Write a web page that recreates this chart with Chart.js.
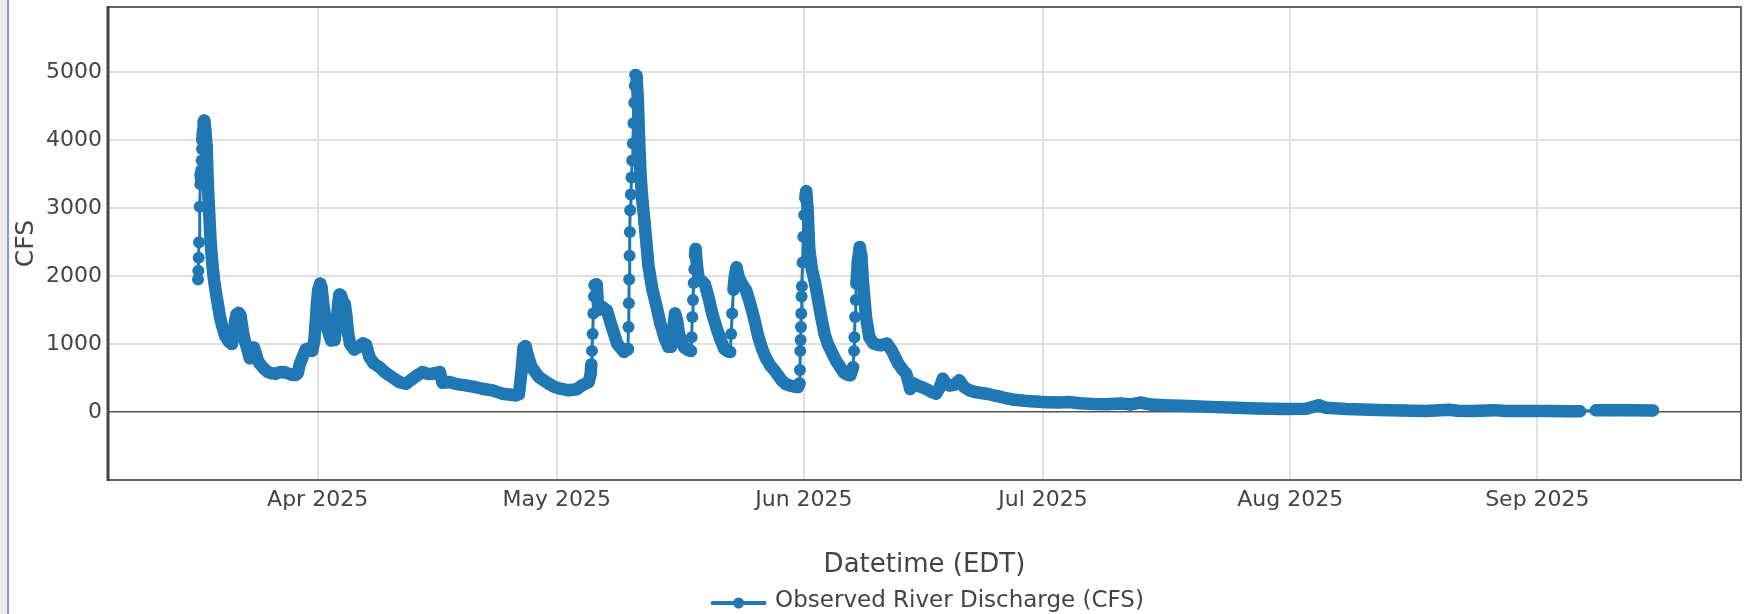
<!DOCTYPE html>
<html>
<head>
<meta charset="utf-8">
<title>Observed River Discharge (CFS)</title>
<script src="https://cdn.jsdelivr.net/npm/chart.js@4.4.1/dist/chart.umd.min.js"></script>
<style>
  html, body { margin: 0; padding: 0; background: #fff; }
  #wrap { position: relative; width: 1747px; height: 614px; overflow: hidden; }
  #edge { position: absolute; left: 0; top: 0; width: 7px; height: 614px; background: #ececec; border-right: 2px solid #7d9bd9; }
  #flowChart { position: absolute; left: 0; top: 0; }
</style>
</head>
<body>
<div id="wrap">
  <canvas id="flowChart" width="1747" height="614"></canvas>
  <div id="edge"></div>
</div>
<script>
// Gauge readings taken off the plot. Times are 2025, 'MM-DD HH'.
var obsTime = [
  '03-17 00','03-17 01','03-17 02','03-17 03','03-17 05','03-17 07','03-17 08','03-17 09','03-17 10','03-17 11','03-17 12','03-17 13','03-17 15','03-17 17','03-17 19','03-17 22',
  '03-18 02','03-18 06','03-18 10','03-18 14','03-18 19','03-19 00','03-19 06','03-19 12','03-19 18','03-20 00','03-20 10','03-20 20',
  '03-21 06','03-21 12','03-21 16','03-21 20','03-22 02','03-22 08','03-22 12','03-22 18','03-23 00','03-23 06','03-23 12','03-23 18',
  '03-24 00','03-24 06','03-24 12','03-24 18','03-25 06','03-25 18','03-26 06','03-26 18','03-27 06','03-27 18','03-28 06','03-28 18',
  '03-29 06','03-29 12','03-29 18','03-30 02','03-30 12','03-31 00','03-31 08','03-31 14','03-31 18','03-31 22','04-01 02','04-01 08',
  '04-01 12','04-01 18','04-02 02','04-02 10','04-02 17','04-03 03','04-03 09','04-03 14','04-03 18','04-03 22','04-04 06','04-04 10',
  '04-04 15','04-04 20','04-05 02','04-05 14','04-06 04','04-06 16','04-07 02','04-07 12','04-08 00','04-08 18','04-09 12','04-10 00',
  '04-10 18','04-11 06','04-12 02','04-12 22','04-13 12','04-14 04','04-14 20','04-15 10','04-16 08','04-16 16','04-17 12','04-18 12',
  '04-19 14','04-20 16','04-21 16','04-22 22','04-24 04','04-25 06','04-25 20','04-26 06','04-26 14','04-26 20','04-27 02','04-27 08',
  '04-27 20','04-28 18','04-30 00','04-30 18','05-01 06','05-02 12','05-03 12','05-04 04','05-05 00','05-05 06','05-05 08','05-05 10',
  '05-05 12','05-05 14','05-05 16','05-05 18','05-06 00','05-06 05','05-06 10','05-06 17','05-07 07','05-07 22','05-08 14','05-09 10',
  '05-09 20','05-09 22','05-10 00','05-10 01','05-10 02','05-10 03','05-10 04','05-10 05','05-10 07','05-10 09','05-10 11','05-10 13',
  '05-10 15','05-10 17','05-10 19','05-10 21','05-11 00','05-11 04','05-11 08','05-11 12','05-11 18','05-12 00','05-12 12','05-13 00',
  '05-13 12','05-14 00','05-14 12','05-15 00','05-15 08','05-15 14','05-15 20','05-16 02','05-16 08','05-16 16','05-17 00','05-17 12',
  '05-17 20','05-17 22','05-18 00','05-18 02','05-18 04','05-18 06','05-18 08','05-18 10','05-18 14','05-18 20','05-19 06','05-19 14',
  '05-20 00','05-20 12','05-21 00','05-21 12','05-22 00','05-22 12','05-22 18','05-22 21','05-23 00','05-23 04','05-23 08','05-23 13',
  '05-23 20','05-24 06','05-24 18','05-25 06','05-25 18','05-26 06','05-26 18','05-27 06','05-27 18','05-28 06','05-28 18','05-29 06',
  '05-29 18','05-30 06','05-30 18','05-31 06','05-31 11','05-31 12','05-31 13','05-31 14','05-31 15','05-31 16','05-31 17','05-31 18',
  '05-31 20','05-31 22','06-01 01','06-01 04','06-01 07','06-01 11','06-01 16','06-02 00','06-02 10','06-03 00','06-03 14','06-04 00',
  '06-04 12','06-05 00','06-05 12','06-06 00','06-06 12','06-06 20','06-07 04','06-07 07','06-07 08','06-07 10','06-07 12','06-07 14',
  '06-07 18','06-08 00','06-08 05','06-08 10','06-08 19','06-09 05','06-09 17','06-10 06','06-10 17','06-11 10','06-12 00','06-12 12',
  '06-12 20','06-13 08','06-13 20','06-14 02','06-14 08','06-14 20','06-15 06','06-15 18','06-16 12','06-17 00','06-17 14','06-18 00',
  '06-18 10','06-18 20','06-19 06','06-19 20','06-20 12','06-21 02','06-21 18','06-22 10','06-23 06','06-24 02','06-25 00','06-25 18',
  '06-26 12','06-27 10','06-28 12','06-29 12','06-30 12','07-01 12','07-03 00','07-04 06','07-05 12','07-07 06','07-09 00','07-10 18',
  '07-12 00','07-13 06','07-14 12','07-16 06','07-19 06','07-22 00','07-25 02','07-28 00','07-31 02','08-03 00','08-04 14','08-05 12',
  '08-08 00','08-12 00','08-15 00','08-18 00','08-20 22','08-22 00','08-23 22','08-26 14','08-28 00','08-31 00','09-02 12','09-04 19',
  '09-06 08','09-08 08','09-10 00','09-12 12','09-15 12'
];
var obsCfs = [
  1950, 2080, 2270, 2500, 3020, 3350, 3500, 3420, 3560, 3700, 3870, 4000, 4150, 4270, 4290, 4150,
  3900, 3300, 2900, 2500, 2180, 1950, 1750, 1580, 1400, 1280, 1120, 1040,
  1000, 1150, 1350, 1440, 1460, 1420, 1280, 1100, 1000, 900, 790, 880,
  950, 860, 760, 710, 640, 590, 570, 565, 585, 590, 570, 550,
  545, 570, 700, 800, 920, 940, 900, 1050, 1300, 1600, 1800, 1890,
  1830, 1550, 1300, 1150, 1054, 1060, 1300, 1600, 1730, 1720, 1600, 1590,
  1400, 1150, 1000, 920, 960, 1010, 990, 810, 720, 660, 580, 540,
  480, 441, 417, 490, 540, 588, 560, 564, 588, 430, 441, 410,
  392, 370, 343, 319, 270, 255, 245, 260, 600, 950, 970, 850,
  662, 515, 417, 368, 350, 320, 335, 392, 441, 560, 700, 900,
  1150, 1450, 1700, 1870, 1880, 1500, 1530, 1544, 1495, 1250, 1005, 885,
  920, 930, 1250, 1600, 1950, 2300, 2650, 2970, 3200, 3450, 3700, 3950,
  4250, 4550, 4800, 4960, 4950, 4600, 4000, 3500, 3100, 2800, 2150, 1800,
  1560, 1300, 1100, 960, 960, 1200, 1450, 1350, 1150, 1020, 950, 910,
  900, 1100, 1400, 1650, 1900, 2100, 2300, 2400, 2150, 1940, 1920, 1880,
  1700, 1450, 1250, 1080, 930, 890, 884, 1150, 1450, 1800, 2000, 2130,
  1980, 1880, 1790, 1600, 1380, 1120, 930, 790, 690, 620, 540, 460,
  410, 390, 375, 368, 420, 620, 900, 1060, 1250, 1450, 1700, 1850,
  2200, 2580, 2900, 3150, 3250, 3000, 2400, 2100, 1890, 1500, 1150, 1000,
  880, 760, 670, 580, 550, 540, 660, 900, 1100, 1400, 1650, 1890,
  2200, 2430, 2300, 1890, 1400, 1100, 1010, 990, 982, 1007, 908, 790,
  712, 630, 565, 460, 340, 417, 390, 368, 330, 295, 270, 350,
  490, 420, 390, 400, 466, 368, 320, 295, 280, 265, 240, 222,
  200, 180, 168, 158, 150, 145, 140, 148, 130, 118, 115, 125,
  112, 140, 110, 100, 88, 76, 64, 52, 44, 48, 100, 62,
  45, 30, 24, 16, 34, 18, 15, 28, 16, 15, 14, 10,
  12, 25, 26, 25, 24
];
// record has no readings after these times until the next one
var gapStarts = ['09-06 08'];

var xTickTimes = ['04-01 00', '05-01 00', '06-01 00', '07-01 00', '08-01 00', '09-01 00'];
var xTickLabels = ['Apr 2025', 'May 2025', 'Jun 2025', 'Jul 2025', 'Aug 2025', 'Sep 2025'];
var yTickValues = [0, 1000, 2000, 3000, 4000, 5000];
var xRange = ['03-05 17', '09-26 13'];
var yRange = [-1000, 5960];

function toMs(s) {
  return Date.UTC(2025, +s.slice(0, 2) - 1, +s.slice(3, 5), +s.slice(6, 8));
}

var lineColor = '#1f77b4';
var gapMs = gapStarts.map(toMs);

// fast rises (and record gaps) show as thin line between separate dots,
// everything else is dense enough to look like a solid band
function segWidth(ctx) {
  var t0 = ctx.p0.parsed.x, t1 = ctx.p1.parsed.x;
  var rate = (ctx.p1.parsed.y - ctx.p0.parsed.y) / ((t1 - t0) / 3600000);
  if (rate >= 80 || gapMs.indexOf(t0) >= 0) return 3;
  return 12.5;
}

var plotFrame = {
  id: 'plotFrame',
  beforeDatasetsDraw: function(chart) {
    var a = chart.chartArea, c = chart.ctx;
    c.save();
    c.strokeStyle = '#666';
    c.lineWidth = 2;
    c.strokeRect(a.left, a.top, a.right - a.left, a.bottom - a.top);
    c.strokeStyle = '#444';
    c.lineWidth = 3;
    c.beginPath();
    c.moveTo(a.left, a.top - 1);
    c.lineTo(a.left, a.bottom + 1);
    c.stroke();
    c.restore();
  }
};

var bottomLegend = {
  id: 'bottomLegend',
  afterDraw: function(chart) {
    var c = chart.ctx, a = chart.chartArea;
    var label = chart.data.datasets[0].label;
    c.save();
    c.font = '23px "DejaVu Sans", Verdana, sans-serif';
    var tw = c.measureText(label).width;
    var total = 55 + 9 + tw;
    var x0 = (a.left + a.right) / 2 + 3 - total / 2;
    var y = chart.height - 13;
    c.strokeStyle = lineColor;
    c.lineWidth = 4;
    c.beginPath();
    c.moveTo(x0, y + 2);
    c.lineTo(x0 + 55, y + 2);
    c.stroke();
    c.fillStyle = lineColor;
    c.beginPath();
    c.arc(x0 + 27.5, y + 2, 5.5, 0, Math.PI * 2);
    c.fill();
    c.fillStyle = '#444';
    c.textAlign = 'left';
    c.textBaseline = 'middle';
    c.fillText(label, x0 + 64, y);
    c.restore();
  }
};

Chart.defaults.font.family = '"DejaVu Sans", Verdana, sans-serif';
Chart.defaults.color = '#444';

var ctx = document.getElementById('flowChart').getContext('2d');
var flowChart = new Chart(ctx, {
  type: 'line',
  data: {
    datasets: [{
      label: 'Observed River Discharge (CFS)',
      data: obsTime.map(function(t, i) { return { x: toMs(t), y: obsCfs[i] }; }),
      borderColor: lineColor,
      backgroundColor: lineColor,
      borderWidth: 12.5,
      borderCapStyle: 'round',
      borderJoinStyle: 'round',
      tension: 0,
      fill: false,
      pointRadius: 6,
      pointBorderWidth: 0,
      pointHoverRadius: 6,
      pointBackgroundColor: lineColor,
      segment: { borderWidth: segWidth }
    }]
  },
  options: {
    responsive: false,
    animation: false,
    devicePixelRatio: 1,
    events: [],
    layout: { padding: { left: 0, top: 7, right: 2, bottom: 24 } },
    scales: {
      x: {
        type: 'linear',
        min: toMs(xRange[0]),
        max: toMs(xRange[1]),
        afterBuildTicks: function(scale) {
          scale.ticks = xTickTimes.map(function(t) { return { value: toMs(t) }; });
        },
        afterFit: function(scale) {
          scale.height = 110;
          scale.paddingLeft = 0;
          scale.paddingRight = 0;
        },
        ticks: {
          autoSkip: false,
          maxRotation: 0,
          padding: 7,
          font: { size: 22 },
          color: '#444',
          callback: function(v, i) { return xTickLabels[i]; }
        },
        grid: { color: '#e0e0e0', lineWidth: 2, drawTicks: false },
        border: { display: false },
        title: { display: true, text: 'Datetime (EDT)', font: { size: 26 }, color: '#444', padding: { top: 0, bottom: 9 } }
      },
      y: {
        min: yRange[0],
        max: yRange[1],
        afterBuildTicks: function(scale) {
          scale.ticks = yTickValues.map(function(v) { return { value: v }; });
        },
        afterFit: function(scale) {
          scale.width = 108;
          scale.paddingTop = 0;
          scale.paddingBottom = 0;
        },
        ticks: {
          padding: 6,
          font: { size: 22 },
          color: '#444',
          callback: function(v) { return String(v); }
        },
        grid: {
          color: function(c) { return c.tick && c.tick.value === 0 ? '#555' : '#e0e0e0'; },
          lineWidth: function(c) { return c.tick && c.tick.value === 0 ? 1.5 : 2; },
          drawTicks: false
        },
        border: { display: false },
        title: { display: true, text: 'CFS', font: { size: 25 }, color: '#444', padding: { top: 11, bottom: 0 } }
      }
    },
    plugins: {
      legend: { display: false },
      tooltip: { enabled: false }
    }
  },
  plugins: [plotFrame, bottomLegend]
});
</script>
</body>
</html>
